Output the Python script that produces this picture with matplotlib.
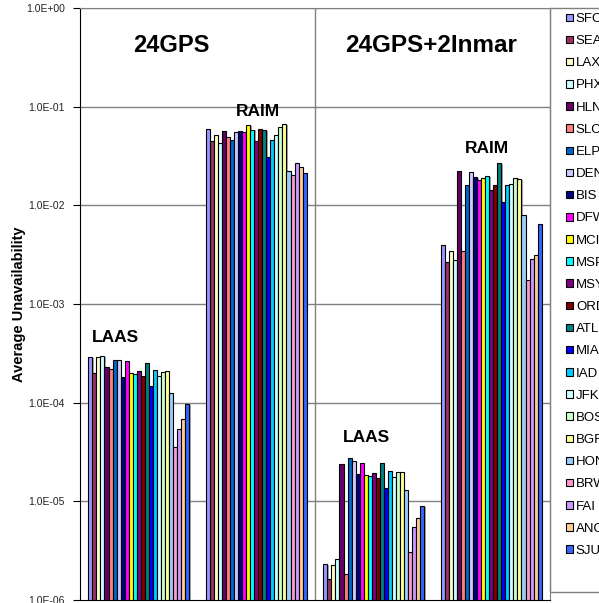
import numpy as np
import matplotlib
matplotlib.use('Agg')
from matplotlib import pyplot as plt
from matplotlib.patches import Patch, Rectangle
from matplotlib.ticker import FixedLocator, NullLocator
import matplotlib.patheffects as pe

plt.rcParams['font.family'] = ['Liberation Sans', 'DejaVu Sans']

airports = ['SFO', 'SEA', 'LAX', 'PHX', 'HLN', 'SLC', 'ELP', 'DEN', 'BIS', 'DFW',
            'MCI', 'MSP', 'MSY', 'ORD', 'ATL', 'MIA', 'IAD', 'JFK', 'BOS', 'BGR',
            'HON', 'BRW', 'FAI', 'ANC', 'SJU']

airport_colors = ['#9999FF', '#993366', '#FFFFCC', '#CCFFFF', '#660066', '#FF8080',
                  '#0066CC', '#CCCCFF', '#000080', '#FF00FF', '#FFFF00', '#00FFFF',
                  '#800080', '#800000', '#008080', '#0000FF', '#00CCFF', '#CCFFFF',
                  '#CCFFCC', '#FFFF99', '#99CCFF', '#FF99CC', '#CC99FF', '#FFCC99',
                  '#3366FF']

# average unavailability per airport, one list per case
gps24_laas = [2.92e-4, 2.01e-4, 2.92e-4, 2.95e-4, 2.28e-4, 2.21e-4, 2.69e-4, 2.69e-4,
              1.81e-4, 2.67e-4, 2.01e-4, 1.95e-4, 2.10e-4, 1.85e-4, 2.51e-4, 1.48e-4,
              2.16e-4, 1.86e-4, 2.06e-4, 2.10e-4, 1.25e-4, 3.53e-5, 5.37e-5, 6.89e-5,
              9.70e-5]
gps24_raim = [5.90e-2, 4.46e-2, 5.20e-2, 4.25e-2, 5.71e-2, 4.96e-2, 4.56e-2, 5.57e-2,
              5.71e-2, 5.57e-2, 6.52e-2, 5.85e-2, 4.46e-2, 5.90e-2, 5.76e-2, 3.07e-2,
              4.59e-2, 5.20e-2, 6.18e-2, 6.63e-2, 2.21e-2, 2.03e-2, 2.70e-2, 2.46e-2,
              2.14e-2]
inmar_laas = [2.32e-6, 1.63e-6, 2.28e-6, 2.59e-6, 2.39e-5, 1.82e-6, 2.73e-5, 2.55e-5,
              1.89e-5, 2.43e-5, 1.86e-5, 1.82e-5, 1.92e-5, 1.71e-5, 2.43e-5, 1.37e-5,
              2.03e-5, 1.78e-5, 1.97e-5, 1.97e-5, 1.30e-5, 3.05e-6, 5.46e-6, 6.73e-6,
              9.03e-6]
inmar_raim = [3.99e-3, 2.65e-3, 3.42e-3, 2.77e-3, 2.24e-2, 3.42e-3, 1.62e-2, 2.16e-2,
              1.92e-2, 1.82e-2, 1.89e-2, 1.97e-2, 1.42e-2, 1.62e-2, 2.67e-2, 1.08e-2,
              1.62e-2, 1.63e-2, 1.91e-2, 1.84e-2, 7.98e-3, 1.75e-3, 2.84e-3, 3.12e-3,
              6.47e-3]

cases = [gps24_laas, gps24_raim, inmar_laas, inmar_raim]
case_labels = ['LAAS', 'RAIM', 'LAAS', 'RAIM']
constellations = ['24GPS', '24GPS+2Inmar']
y_ticks = [1e-6, 1e-5, 1e-4, 1e-3, 1e-2, 1e-1, 1e0]
y_tick_labels = ['1.0E-06', '1.0E-05', '1.0E-04', '1.0E-03', '1.0E-02', '1.0E-01', '1.0E+00']

W, H = 599, 603
figure = plt.figure(figsize=(W / 100, H / 100), dpi=100)
axes = figure.add_axes([80 / W, 1 - 600 / H, 470 / W, 592 / H])

y_floor = 1e-6
num_bars = len(airports)
group_span = 0.858
bar_width = group_span / num_bars
shadow = [pe.SimplePatchShadow(offset=(1.0, -0.6), shadow_rgbFace='#808080', alpha=0.7), pe.Normal()]

for case_idx, values in enumerate(cases):
    left = case_idx + 0.5 - group_span / 2
    for bar_idx in range(num_bars):
        x = left + bar_idx * bar_width
        axes.bar(x, values[bar_idx] - y_floor, bottom=y_floor, width=bar_width, align='edge',
                 color=airport_colors[bar_idx], edgecolor='black', linewidth=0.8,
                 zorder=3, path_effects=shadow)

axes.set_yscale('log')
axes.set_ylim(y_floor, 1e0)
axes.set_xlim(0, 4)
axes.yaxis.set_major_locator(FixedLocator(y_ticks))
axes.yaxis.set_minor_locator(NullLocator())
axes.set_yticklabels(y_tick_labels, fontsize=7.5, color='#222222')
axes.tick_params(axis='y', direction='out', length=5, width=0.8, pad=6)
axes.set_xticks([])

for tick in y_ticks[1:]:
    axes.axhline(tick, color='#808080', linewidth=1.0, zorder=1)
axes.axvline(2, color='#808080', linewidth=1.0, zorder=1)

for side in ['top', 'right']:
    axes.spines[side].set_color('#808080')
axes.spines['left'].set_color('black')
axes.spines['bottom'].set_color('black')

axes.set_ylabel('Average Unavailability', fontsize=10.5, fontweight='bold', labelpad=0)

# constellation titles, one per half of the plot
axes.text(0.775, 4.2e-1, constellations[0], fontsize=17, fontweight='bold',
          ha='center', va='center')
axes.text(2.99, 4.2e-1, constellations[1], fontsize=17.5, fontweight='bold',
          ha='center', va='center')

# case labels above each group of bars
case_label_pos = [(0.30, 4.6e-4), (1.515, 9.0e-2), (2.44, 4.4e-5), (3.46, 3.8e-2)]
for (x, y), label in zip(case_label_pos, case_labels):
    axes.text(x, y, label, fontsize=12.5, fontweight='bold', ha='center', va='center')

# legend panel to the right of the plot
figure.patches.append(Rectangle((550 / W, 1 - 592 / H), 0.5, 584 / H, transform=figure.transFigure,
                                fill=False, edgecolor='#808080', linewidth=1.0))
handles = [Patch(facecolor=c, edgecolor='black', linewidth=0.8) for c in airport_colors]
figure.legend(handles, airports, loc='upper left', bbox_to_anchor=(566 / W, 1 - 13 / H),
              frameon=False, fontsize=9.5, handlelength=0.5, handleheight=0.5,
              handletextpad=0.25, labelspacing=0.77, borderaxespad=0, borderpad=0)

figure.savefig('out.png', dpi=100)
